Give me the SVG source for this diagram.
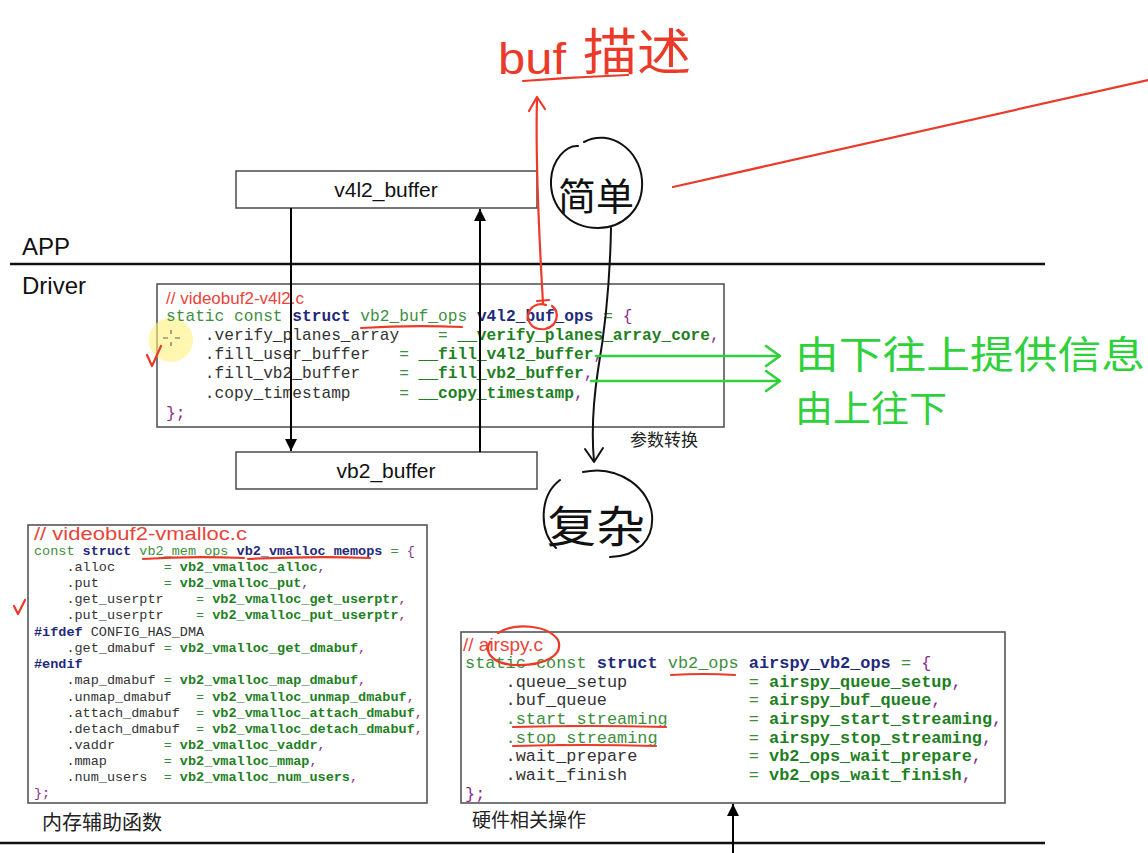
<svg xmlns="http://www.w3.org/2000/svg" width="1148" height="853" viewBox="0 0 1148 853">
<defs>
<style>
.bg{fill:#ffffff}
.box{fill:#ffffff;stroke:#4a4a4a;stroke-width:1.5}
.codebox{fill:#ffffff;stroke:#555555;stroke-width:1.6}
.lbl{font-family:"Liberation Sans","Noto Sans",sans-serif;fill:#111111}
.cjk{font-family:"Noto Sans CJK SC","Noto Sans",sans-serif;fill:#222222}
.code{font-family:"Liberation Mono","DejaVu Sans Mono",monospace;fill:#333333}
.cmt{font-family:"Liberation Sans","Noto Sans",sans-serif;fill:#e8453a}
.g{fill:#3d8f3d}
.v{fill:#1e7f1e;font-weight:bold}
.b{fill:#1f2a7c;font-weight:bold}
.p{fill:#8a2c8e}
.m{fill:#333333}
.wire{stroke:#000000;stroke-width:2;fill:none}
.hand{stroke:#111111;stroke-width:2;fill:none;stroke-linecap:round;stroke-linejoin:round}
.red{stroke:#ec3a2a;stroke-width:2.2;fill:none;stroke-linecap:round;stroke-linejoin:round}
.grn{stroke:#2fd13a;stroke-width:2.6;fill:none;stroke-linecap:round;stroke-linejoin:round}
.rule{stroke:#111111;stroke-width:2.6}
</style>
<marker id="ah" viewBox="0 0 10 10" refX="10" refY="5" markerWidth="6" markerHeight="6" markerUnits="strokeWidth" orient="auto">
<path d="M0,0 L10,5 L0,10 z" fill="#000000"/>
</marker>
</defs>
<rect class="bg" x="0" y="0" width="1148" height="853"/>

<!-- layer labels and rules -->
<g id="layers">
<text class="lbl" x="22" y="255" font-size="24">APP</text>
<line class="rule" x1="10" y1="264" x2="1045" y2="264"/>
<text class="lbl" x="22" y="294" font-size="24">Driver</text>
<line class="rule" x1="0" y1="843" x2="1045" y2="843"/>
</g>

<!-- nodes -->
<g id="node-v4l2-buffer">
<rect class="box" x="236" y="171" width="301" height="37"/>
<text class="lbl" x="386" y="197" font-size="21" text-anchor="middle">v4l2_buffer</text>
</g>

<g id="node-v4l2-buf-ops">
<rect class="codebox" x="157" y="284" width="567" height="143"/>
<circle cx="171" cy="340" r="22" fill="#fff07a" opacity="0.6"/>
<path d="M163 338 h5 M175 338 h5 M171 330 v4 M171 342 v4" stroke="#666" stroke-width="1.2" fill="none"/>
<text class="cmt" x="166" y="304" font-size="17">// videobuf2-v4l2.c</text>
<text class="code" font-size="16.2" xml:space="preserve"><tspan x="166" y="321"><tspan class="g">static const </tspan><tspan class="b">struct</tspan><tspan class="g"> vb2_buf_ops </tspan><tspan class="b">v4l2_buf_ops</tspan><tspan class="g"> = </tspan><tspan class="p">{</tspan></tspan><tspan x="166" y="340"><tspan class="m">    .verify_planes_array    </tspan><tspan class="g">= </tspan><tspan class="v">__verify_planes_array_core</tspan><tspan class="p">,</tspan></tspan><tspan x="166" y="359"><tspan class="m">    .fill_user_buffer   </tspan><tspan class="g">= </tspan><tspan class="v">__fill_v4l2_buffer</tspan><tspan class="p">,</tspan></tspan><tspan x="166" y="378"><tspan class="m">    .fill_vb2_buffer    </tspan><tspan class="g">= </tspan><tspan class="v">__fill_vb2_buffer</tspan><tspan class="p">,</tspan></tspan><tspan x="166" y="398"><tspan class="m">    .copy_timestamp     </tspan><tspan class="g">= </tspan><tspan class="v">__copy_timestamp</tspan><tspan class="p">,</tspan></tspan><tspan x="166" y="418"><tspan class="p">};</tspan></tspan></text>
<text class="cjk" x="630" y="446" font-size="17">参数转换</text>
</g>

<g id="node-vb2-buffer">
<rect class="box" x="236" y="452" width="301" height="37"/>
<text class="lbl" x="386" y="478" font-size="21" text-anchor="middle">vb2_buffer</text>
</g>

<g id="node-vmalloc-memops">
<rect class="codebox" x="28" y="525" width="399" height="278"/>
<text class="cmt" x="34" y="540" font-size="18" textLength="213" lengthAdjust="spacingAndGlyphs">// videobuf2-vmalloc.c</text>
<text class="code" font-size="13.5" xml:space="preserve"><tspan x="34" y="555"><tspan class="g">const </tspan><tspan class="b">struct</tspan><tspan class="g"> vb2_mem_ops </tspan><tspan class="b">vb2_vmalloc_memops</tspan><tspan class="g"> = </tspan><tspan class="p">{</tspan></tspan><tspan x="34" y="571"><tspan class="m">    .alloc      </tspan><tspan class="g">= </tspan><tspan class="v">vb2_vmalloc_alloc</tspan><tspan class="p">,</tspan></tspan><tspan x="34" y="587"><tspan class="m">    .put        </tspan><tspan class="g">= </tspan><tspan class="v">vb2_vmalloc_put</tspan><tspan class="p">,</tspan></tspan><tspan x="34" y="603"><tspan class="m">    .get_userptr    </tspan><tspan class="g">= </tspan><tspan class="v">vb2_vmalloc_get_userptr</tspan><tspan class="p">,</tspan></tspan><tspan x="34" y="619"><tspan class="m">    .put_userptr    </tspan><tspan class="g">= </tspan><tspan class="v">vb2_vmalloc_put_userptr</tspan><tspan class="p">,</tspan></tspan><tspan x="34" y="636"><tspan class="b">#ifdef</tspan><tspan class="m"> CONFIG_HAS_DMA</tspan></tspan><tspan x="34" y="652"><tspan class="m">    .get_dmabuf </tspan><tspan class="g">= </tspan><tspan class="v">vb2_vmalloc_get_dmabuf</tspan><tspan class="p">,</tspan></tspan><tspan x="34" y="668"><tspan class="b">#endif</tspan></tspan><tspan x="34" y="684"><tspan class="m">    .map_dmabuf </tspan><tspan class="g">= </tspan><tspan class="v">vb2_vmalloc_map_dmabuf</tspan><tspan class="p">,</tspan></tspan><tspan x="34" y="701"><tspan class="m">    .unmap_dmabuf   </tspan><tspan class="g">= </tspan><tspan class="v">vb2_vmalloc_unmap_dmabuf</tspan><tspan class="p">,</tspan></tspan><tspan x="34" y="717"><tspan class="m">    .attach_dmabuf  </tspan><tspan class="g">= </tspan><tspan class="v">vb2_vmalloc_attach_dmabuf</tspan><tspan class="p">,</tspan></tspan><tspan x="34" y="733"><tspan class="m">    .detach_dmabuf  </tspan><tspan class="g">= </tspan><tspan class="v">vb2_vmalloc_detach_dmabuf</tspan><tspan class="p">,</tspan></tspan><tspan x="34" y="749"><tspan class="m">    .vaddr      </tspan><tspan class="g">= </tspan><tspan class="v">vb2_vmalloc_vaddr</tspan><tspan class="p">,</tspan></tspan><tspan x="34" y="765"><tspan class="m">    .mmap       </tspan><tspan class="g">= </tspan><tspan class="v">vb2_vmalloc_mmap</tspan><tspan class="p">,</tspan></tspan><tspan x="34" y="781"><tspan class="m">    .num_users  </tspan><tspan class="g">= </tspan><tspan class="v">vb2_vmalloc_num_users</tspan><tspan class="p">,</tspan></tspan><tspan x="34" y="797"><tspan class="p">};</tspan></tspan></text>
<text class="cjk" x="42" y="830" font-size="20">内存辅助函数</text>
</g>

<g id="node-airspy-vb2-ops">
<rect class="codebox" x="461" y="632" width="544" height="171"/>
<text class="cmt" x="463" y="651" font-size="19">// airspy.c</text>
<text class="code" font-size="16.9" xml:space="preserve"><tspan x="465" y="668"><tspan class="g">static const </tspan><tspan class="b">struct</tspan><tspan class="g"> vb2_ops </tspan><tspan class="b">airspy_vb2_ops</tspan><tspan class="g"> = </tspan><tspan class="p">{</tspan></tspan><tspan x="465" y="687"><tspan class="m">    .queue_setup            </tspan><tspan class="g">= </tspan><tspan class="v">airspy_queue_setup</tspan><tspan class="p">,</tspan></tspan><tspan x="465" y="705"><tspan class="m">    .buf_queue              </tspan><tspan class="g">= </tspan><tspan class="v">airspy_buf_queue</tspan><tspan class="p">,</tspan></tspan><tspan x="465" y="724"><tspan class="m">    </tspan><tspan class="g">.start_streaming        = </tspan><tspan class="v">airspy_start_streaming</tspan><tspan class="p">,</tspan></tspan><tspan x="465" y="743"><tspan class="m">    </tspan><tspan class="g">.stop_streaming         = </tspan><tspan class="v">airspy_stop_streaming</tspan><tspan class="p">,</tspan></tspan><tspan x="465" y="761"><tspan class="m">    .wait_prepare           </tspan><tspan class="g">= </tspan><tspan class="v">vb2_ops_wait_prepare</tspan><tspan class="p">,</tspan></tspan><tspan x="465" y="780"><tspan class="m">    .wait_finish            </tspan><tspan class="g">= </tspan><tspan class="v">vb2_ops_wait_finish</tspan><tspan class="p">,</tspan></tspan><tspan x="465" y="799"><tspan class="p">};</tspan></tspan></text>
<text class="cjk" x="472" y="827" font-size="19">硬件相关操作</text>
</g>

<!-- connectors -->
<g id="connectors">
<line class="wire" x1="291" y1="208" x2="291" y2="451" marker-end="url(#ah)"/>
<line class="wire" x1="480" y1="452" x2="480" y2="209" marker-end="url(#ah)"/>
<line class="wire" x1="733" y1="853" x2="733" y2="804" marker-end="url(#ah)"/>
<!-- hand-drawn: simple -> complex -->
<path class="hand" d="M611 228 C610 280 605 330 598 370 C592 410 592 440 594 461"/>
<path class="hand" d="M585 449 L594 462 L603 448"/>
<!-- red: buf -> buf description -->
<path class="red" d="M543 303 C540 250 535 170 537 98"/>
<path class="red" d="M529 111 L537 97 L545 109"/>
<!-- green arrows -->
<path class="grn" d="M596 356 L779 356"/>
<path class="grn" d="M766 346 L780 356 L766 366"/>
<path class="grn" d="M591 381 L779 381"/>
<path class="grn" d="M766 371 L780 381 L766 391"/>
</g>

<!-- hand annotations -->
<g id="annotations">
<text x="498" y="74" font-size="44" fill="#ec3a2a" font-family="Liberation Sans,sans-serif" textLength="68" lengthAdjust="spacingAndGlyphs">buf</text>
<text x="583" y="70" font-size="50" fill="#ec3a2a" font-family="Noto Sans CJK SC,sans-serif" textLength="108" lengthAdjust="spacingAndGlyphs">描述</text>
<path class="red" d="M523 81 Q575 77 628 75"/>
<path class="red" d="M673 187 L1148 80"/>
<!-- simple circle -->
<path class="hand" d="M584 142 C610 128 640 150 642 180 C644 210 622 228 598 228 C568 228 550 205 551 180 C552 160 566 145 578 146"/>
<text x="558" y="210" font-size="38" fill="#111" font-family="Noto Sans CJK SC,sans-serif" textLength="76" lengthAdjust="spacingAndGlyphs">简单</text>
<!-- complex circle -->
<path class="hand" d="M583 472 C620 464 650 490 652 515 C654 540 638 556 610 557 M560 480 C540 495 538 530 556 548"/>
<text x="547" y="543" font-size="44" fill="#111" font-family="Noto Sans CJK SC,sans-serif" textLength="98" lengthAdjust="spacingAndGlyphs">复杂</text>
<!-- green notes -->
<text x="795" y="368" font-size="38" fill="#2fd13a" font-family="Noto Sans CJK SC,sans-serif" textLength="350" lengthAdjust="spacingAndGlyphs">由下往上提供信息</text>
<text x="795" y="422" font-size="36" fill="#2fd13a" font-family="Noto Sans CJK SC,sans-serif" textLength="152" lengthAdjust="spacingAndGlyphs">由上往下</text>
<!-- red marks in v4l2 box -->
<path class="red" d="M361 328 Q410 325 462 327"/>
<path class="red" d="M552 306 C560 312 558 326 545 329 C530 331 525 318 530 310 C534 304 541 303 546 305"/>
<path class="red" d="M537 301 L549 300"/>
<path class="red" d="M147 355 L152 366 L161 346"/>
<!-- red marks in vmalloc box -->
<path class="red" d="M143 559 Q190 556 244 558"/>
<path class="red" d="M248 559 Q310 556 370 558"/>
<path class="red" d="M14 606 L18 614 L25 600"/>
<!-- red marks in airspy box -->
<path class="red" d="M498 633 C515 622 548 625 558 640 C564 655 545 666 515 665 C492 664 484 652 490 642"/>
<path class="red" d="M671 675 Q703 673 735 675"/>
<path class="red" d="M513 727 Q590 725 666 727"/>
<path class="red" d="M513 746 Q585 744 656 746"/>
</g>
</svg>
